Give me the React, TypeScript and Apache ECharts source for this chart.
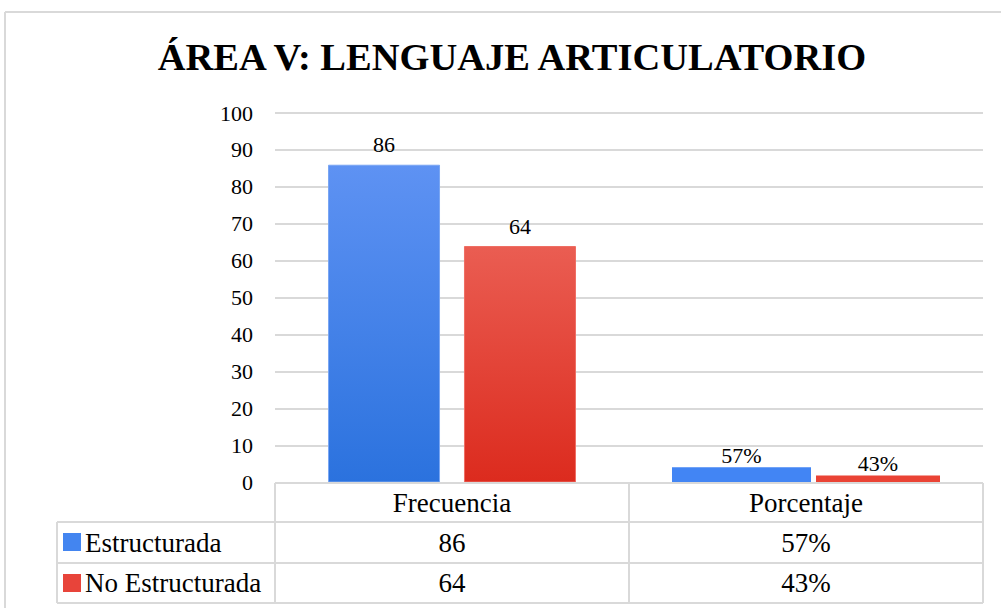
import React, { useEffect, useRef } from "react";
import * as echarts from "echarts";

const TITLE = "ÁREA V: LENGUAJE ARTICULATORIO";
const categories = ["Frecuencia", "Porcentaje"];
const seriesNames = ["Estructurada", "No Estructurada"];
const frecuencia = [86, 64];
const porcentajeLabels = ["57%", "43%"];
// bar heights as drawn in the reference for the Porcentaje group
const porcentajeBars = [4.1, 1.9];
const yMin = 0;
const yMax = 100;
const yInterval = 10;

const FONT = "Liberation Serif";
const GRID_COLOR = "#d9d9d9";

export default function App() {
  const ref = useRef<HTMLDivElement>(null);

  useEffect(() => {
    if (!ref.current) return;
    const chart = echarts.init(ref.current, undefined, { renderer: "svg" });

    const blueGrad = new echarts.graphic.LinearGradient(0, 0, 0, 1, [
      { offset: 0, color: "#5e92f3" },
      { offset: 1, color: "#2b72de" },
    ]);
    const redGrad = new echarts.graphic.LinearGradient(0, 0, 0, 1, [
      { offset: 0, color: "#ea5d52" },
      { offset: 1, color: "#dc2b1e" },
    ]);

    const xL = 57, xA = 275, xM = 629, xR = 983;
    const yH = 483, y1 = 522, y2 = 563, y3 = 603;
    const lineStyle = { stroke: GRID_COLOR, lineWidth: 2 };
    const hLine = (x1: number, x2: number, y: number) => ({
      type: "line", shape: { x1, y1: y, x2, y2: y }, style: lineStyle, z: 10,
    });
    const vLine = (x: number, ya: number, yb: number) => ({
      type: "line", shape: { x1: x, y1: ya, x2: x, y2: yb }, style: lineStyle, z: 10,
    });
    const cellText = (text: string, x: number, y: number, align = "center") => ({
      type: "text", x, y, z: 11,
      style: {
        text, fill: "#000", fontFamily: FONT, fontSize: 27, textAlign: align, textVerticalAlign: "middle",
      },
    });
    const colCenters = [(xA + xM) / 2, (xM + xR) / 2];
    const rowCenters = [(y1 + y2) / 2, (y2 + y3) / 2];
    const rowValues = [
      [String(frecuencia[0]), porcentajeLabels[0]],
      [String(frecuencia[1]), porcentajeLabels[1]],
    ];

    const graphics: any[] = [
      { type: "line", shape: { x1: 5, y1: 12, x2: 1001, y2: 12 }, style: lineStyle, z: 0 },
      { type: "line", shape: { x1: 5, y1: 12, x2: 5, y2: 608 }, style: lineStyle, z: 0 },
      {
        type: "text", x: 512, y: 57, z: 11,
        style: {
          text: TITLE, fill: "#000", fontFamily: FONT, fontWeight: "bold", fontSize: 38.5,
          textAlign: "center", textVerticalAlign: "middle",
        },
      },
      hLine(xA, xR, yH), hLine(xL, xR, y1), hLine(xL, xR, y2), hLine(xL, xR, y3),
      vLine(xL, y1, y3), vLine(xA, yH, y3), vLine(xM, yH, y3), vLine(xR, yH, y3),
      cellText(categories[0], colCenters[0], (yH + y1) / 2),
      cellText(categories[1], colCenters[1], (yH + y1) / 2),
      { type: "rect", shape: { x: 63, y: 533, width: 18, height: 18 }, style: { fill: "#4385f0" }, z: 11 },
      { type: "rect", shape: { x: 63, y: 574, width: 18, height: 18 }, style: { fill: "#e8443a" }, z: 11 },
      cellText(seriesNames[0], 85, rowCenters[0], "left"),
      cellText(seriesNames[1], 85, rowCenters[1], "left"),
    ];
    rowValues.forEach((row, r) => {
      row.forEach((v, c) => graphics.push(cellText(v, colCenters[c], rowCenters[r])));
    });

    const labelBase = { show: true, position: "top", color: "#000", fontFamily: FONT, fontSize: 22 };

    chart.setOption({
      animation: false,
      backgroundColor: "#fff",
      grid: { left: 275, right: 18, top: 113, bottom: 125.5 },
      xAxis: [
        {
          type: "category", data: categories,
          axisLine: { show: false }, axisTick: { show: false }, axisLabel: { show: false },
        },
        {
          type: "category", data: categories, show: false, position: "bottom",
        },
      ],
      yAxis: {
        type: "value", min: yMin, max: yMax, interval: yInterval,
        axisLine: { show: false }, axisTick: { show: false },
        axisLabel: { color: "#000", fontFamily: FONT, fontSize: 22, margin: 22 },
        splitLine: { lineStyle: { color: GRID_COLOR, width: 2 } },
      },
      series: [
        {
          name: seriesNames[0], type: "bar", xAxisIndex: 0,
          data: [frecuencia[0], "-"], barWidth: 112, barGap: "21.4%",
          itemStyle: { color: blueGrad, borderColor: "#79a6f3", borderWidth: 1 },
          label: { ...labelBase, distance: 9 },
        },
        {
          name: seriesNames[1], type: "bar", xAxisIndex: 0,
          data: [frecuencia[1], "-"], barWidth: 112,
          itemStyle: { color: redGrad, borderColor: "#ef6d63", borderWidth: 1 },
          label: { ...labelBase, distance: 9 },
        },
        {
          name: seriesNames[0] + " %", type: "bar", xAxisIndex: 1,
          data: ["-", porcentajeBars[0]], barWidth: 139, barGap: "3.6%",
          itemStyle: { color: "#4285f4" },
          label: { ...labelBase, distance: 1, formatter: () => porcentajeLabels[0] },
        },
        {
          name: seriesNames[1] + " %", type: "bar", xAxisIndex: 1,
          data: ["-", porcentajeBars[1]], barWidth: 124,
          itemStyle: { color: "#ea4335" },
          label: { ...labelBase, distance: 1, formatter: () => porcentajeLabels[1] },
        },
      ],
      graphic: graphics,
    });

    return () => chart.dispose();
  }, []);

  return (
    <div
      ref={ref}
      style={{ position: "fixed", left: 0, top: 0, width: 1001, height: 608, background: "#fff" }}
    />
  );
}
